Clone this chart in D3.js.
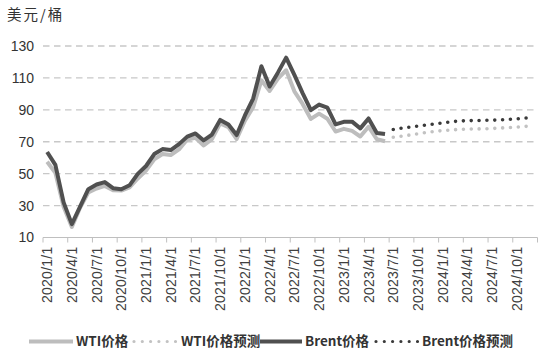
<!DOCTYPE html>
<html>
<head>
<meta charset="utf-8">
<script src="https://cdn.jsdelivr.net/npm/d3@7"></script>
<style>
  html, body { margin: 0; padding: 0; background: #fff; }
  svg { display: block; }
</style>
</head>
<body>
<svg id="chart" width="545" height="357"></svg>
<script>
// ---- data ----
const months = [
  "2020/1/1","2020/2/1","2020/3/1","2020/4/1","2020/5/1","2020/6/1","2020/7/1","2020/8/1","2020/9/1","2020/10/1","2020/11/1","2020/12/1",
  "2021/1/1","2021/2/1","2021/3/1","2021/4/1","2021/5/1","2021/6/1","2021/7/1","2021/8/1","2021/9/1","2021/10/1","2021/11/1","2021/12/1",
  "2022/1/1","2022/2/1","2022/3/1","2022/4/1","2022/5/1","2022/6/1","2022/7/1","2022/8/1","2022/9/1","2022/10/1","2022/11/1","2022/12/1",
  "2023/1/1","2023/2/1","2023/3/1","2023/4/1","2023/5/1","2023/6/1","2023/7/1","2023/8/1","2023/9/1","2023/10/1","2023/11/1","2023/12/1",
  "2024/1/1","2024/2/1","2024/3/1","2024/4/1","2024/5/1","2024/6/1","2024/7/1","2024/8/1","2024/9/1","2024/10/1","2024/11/1","2024/12/1"
];
const tickLabels = [
  "2020/1/1","2020/4/1","2020/7/1","2020/10/1","2021/1/1","2021/4/1","2021/7/1","2021/10/1",
  "2022/1/1","2022/4/1","2022/7/1","2022/10/1","2023/1/1","2023/4/1","2023/7/1","2023/10/1",
  "2024/1/1","2024/4/1","2024/7/1","2024/10/1"
];
const yTicks = [10, 30, 50, 70, 90, 110, 130];

// actual: 2020/1 .. 2023/6
const wtiActual = [
  57.5, 50.5, 29.2, 16.6, 28.6, 38.3, 40.7, 42.3, 39.6, 39.4, 41.4, 47.0,
  52.0, 59.0, 62.3, 61.7, 65.2, 71.4, 72.5, 67.7, 71.6, 81.5, 79.2, 71.7,
  83.2, 91.6, 108.5, 101.8, 109.6, 114.8, 101.6, 93.7, 84.3, 87.6, 84.4, 76.4,
  78.1, 76.8, 73.3, 79.4, 71.6, 70.3
];
const brentActual = [
  63.6, 55.5, 32.0, 18.4, 29.4, 40.3, 43.2, 44.7, 40.9, 40.2, 42.7, 49.9,
  54.8, 62.3, 65.4, 64.8, 68.5, 73.2, 75.2, 70.8, 74.5, 83.7, 80.8, 74.2,
  86.5, 97.1, 117.3, 104.6, 113.3, 122.7, 111.9, 100.5, 89.8, 93.3, 91.4, 80.9,
  82.5, 82.6, 78.4, 84.6, 75.5, 74.8
];
// forecast: 2023/7 .. 2024/12
const wtiForecast = [
  72.8, 73.5, 74.2, 75.0, 75.8, 76.5, 77.0, 77.4, 77.7,
  77.9, 78.0, 78.1, 78.3, 78.6, 78.9, 79.2, 79.6, 80.1
];
const brentForecast = [
  77.7, 78.5, 79.2, 79.8, 80.5, 81.2, 81.8, 82.5, 83.0,
  83.2, 83.3, 83.4, 83.5, 83.7, 84.0, 84.3, 84.8, 85.3
];
const seriesNames = ["WTI价格", "WTI价格预测", "Brent价格", "Brent价格预测"];

// ---- layout ----
const svg = d3.select("#chart");
const plotLeft = 43, plotRight = 537.5, plotTop = 46, plotBottom = 237.5;

const x = d3.scaleBand().domain(months).range([plotLeft, plotRight]).paddingInner(0).paddingOuter(0);
const y = d3.scaleLinear().domain([10, 130]).range([plotBottom, plotTop]);
const cx = m => x(m) + x.bandwidth() / 2;

const colWTI = "#bdbdbd", colBrent = "#505050";
const colWTIf = "#c2c2c2", colBrentf = "#3a3a3a";

// title / unit
svg.append("text")
  .attr("x", 7).attr("y", 20)
  .attr("font-family", "'Noto Sans CJK SC', sans-serif")
  .attr("font-size", 14.5).attr("fill", "#333")
  .attr("letter-spacing", 2)
  .text("美元/桶");

// gridlines
svg.append("g").selectAll("line")
  .data(yTicks.filter(v => v !== 10))
  .join("line")
  .attr("x1", plotLeft).attr("x2", plotRight)
  .attr("y1", d => y(d)).attr("y2", d => y(d))
  .attr("stroke", "#c8c8c8").attr("stroke-width", 1.3)
  .attr("stroke-dasharray", "6.5,4.5");

// y axis labels
const yAxis = d3.axisLeft(y).tickValues(yTicks).tickSize(0).tickPadding(9);
const gy = svg.append("g").attr("transform", `translate(${plotLeft},0)`).call(yAxis);
gy.select(".domain").remove();
gy.selectAll("text")
  .attr("font-family", "'Liberation Sans', Arial, sans-serif")
  .attr("font-size", 14).attr("fill", "#333");

// x axis (ticks on category boundaries every 3 months)
const gx = svg.append("g").attr("transform", `translate(0,${plotBottom})`);
gx.append("line").attr("x1", plotLeft).attr("x2", plotRight).attr("y1", 0).attr("y2", 0)
  .attr("stroke", "#bfbfbf").attr("stroke-width", 1);
const tickPos = tickLabels.map(m => x(m)).concat([plotRight]);
gx.selectAll("line.tk").data(tickPos).join("line").attr("class", "tk")
  .attr("x1", d => d).attr("x2", d => d).attr("y1", 0).attr("y2", 5)
  .attr("stroke", "#bfbfbf").attr("stroke-width", 1);
gx.selectAll("text").data(tickLabels).join("text")
  .attr("transform", d => `translate(${cx(d) + 5},9) rotate(-90)`)
  .attr("text-anchor", "end")
  .attr("font-family", "'Liberation Sans', Arial, sans-serif")
  .attr("font-size", 14).attr("fill", "#404040")
  .attr("letter-spacing", 0.25)
  .text(d => d);

// lines
const line = d3.line().x(d => cx(d.m)).y(d => y(d.v));
const actualMonths = months.slice(0, wtiActual.length);
const fcMonths = months.slice(wtiActual.length, wtiActual.length + wtiForecast.length);
const toPts = (ms, vs) => vs.map((v, i) => ({ m: ms[i], v }));

svg.append("path").datum(toPts(fcMonths, wtiForecast))
  .attr("d", line).attr("fill", "none").attr("stroke", colWTIf)
  .attr("stroke-width", 3.6).attr("stroke-linecap", "round").attr("stroke-dasharray", "0,7.85");
svg.append("path").datum(toPts(fcMonths, brentForecast))
  .attr("d", line).attr("fill", "none").attr("stroke", colBrentf)
  .attr("stroke-width", 3.6).attr("stroke-linecap", "round").attr("stroke-dasharray", "0,7.85");

svg.append("path").datum(toPts(actualMonths, wtiActual))
  .attr("d", line).attr("fill", "none").attr("stroke", colWTI)
  .attr("stroke-width", 4).attr("stroke-linejoin", "round");
svg.append("path").datum(toPts(actualMonths, brentActual))
  .attr("d", line).attr("fill", "none").attr("stroke", colBrent)
  .attr("stroke-width", 4).attr("stroke-linejoin", "round");

// legend
const ly = 341.5;
const legendItems = [
  { name: seriesNames[0], x0: 29, x1: 73, tx: 76, col: colWTI, dotted: false },
  { name: seriesNames[1], x0: 134, x1: 177, tx: 181, col: colWTIf, dotted: true },
  { name: seriesNames[2], x0: 260, x1: 302, tx: 305, col: colBrent, dotted: false },
  { name: seriesNames[3], x0: 376, x1: 418, tx: 422, col: colBrentf, dotted: true }
];
const lg = svg.append("g");
legendItems.forEach(it => {
  const l = lg.append("line").attr("x1", it.x0).attr("x2", it.x1).attr("y1", ly).attr("y2", ly)
    .attr("stroke", it.col);
  if (it.dotted) {
    l.attr("stroke-width", 3.2).attr("stroke-linecap", "round").attr("stroke-dasharray", "0,8.3");
  } else {
    l.attr("stroke-width", 4);
  }
  lg.append("text").attr("x", it.tx).attr("y", ly).attr("dy", "0.36em")
    .attr("font-family", "'Noto Sans CJK SC', sans-serif")
    .attr("font-weight", "bold").attr("font-size", 13.5).attr("fill", "#333")
    .text(it.name);
});
</script>
</body>
</html>
